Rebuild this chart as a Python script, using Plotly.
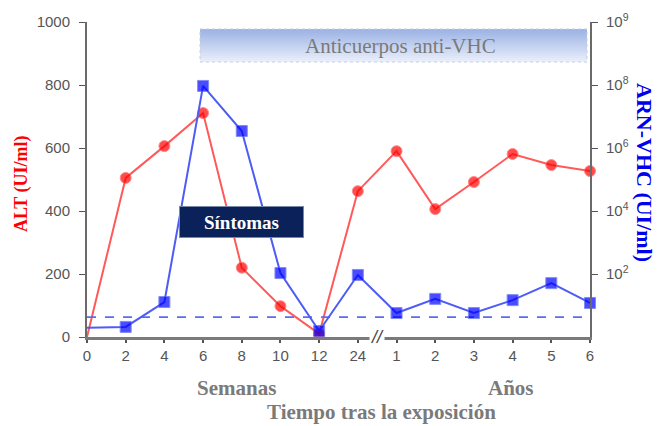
import plotly.graph_objects as go

# ---- data ----
x_labels = ["0", "2", "4", "6", "8", "10", "12", "24", "1", "2", "3", "4", "5", "6"]
x_pos = list(range(len(x_labels)))
alt_values = [0, 505, 606, 711, 220, 98, 10, 463, 590, 406, 492, 581, 546, 527]
# RNA-HCV plotted on the (schematic) right axis scale
rna_values = [29, 32, 111, 797, 654, 203, 19, 197, 76, 121, 76, 117, 171, 108]
detection_limit = 63
right_tickvals = [200, 400, 600, 800, 1000]
right_ticktext = ["10<sup>2</sup>", "10<sup>4</sup>", "10<sup>6</sup>", "10<sup>8</sup>", "10<sup>9</sup>"]
left_tickvals = [0, 200, 400, 600, 800, 1000]

marker_sizes = [0] + [11] * (len(x_pos) - 1)

fig = go.Figure()

fig.add_trace(go.Scatter(
    x=x_pos, y=[detection_limit] * len(x_pos), mode="lines",
    line=dict(color="#5a6cf0", width=1.6, dash="dash"), yaxis="y2",
    hoverinfo="skip", showlegend=False))

fig.add_trace(go.Scatter(
    x=x_pos, y=alt_values, mode="lines+markers",
    line=dict(color="#ff5a5a", width=2),
    marker=dict(symbol="circle", size=marker_sizes, color="#ff0000"),
    cliponaxis=False, showlegend=False))

fig.add_trace(go.Scatter(
    x=x_pos, y=rna_values, mode="lines+markers", yaxis="y2",
    line=dict(color="#4d5cf5", width=2),
    marker=dict(symbol="square", size=marker_sizes, color="#0000ff"),
    cliponaxis=False, showlegend=False))

tick_font = dict(family="Liberation Sans", size=15, color="#555555")
serif = "Liberation Serif"

fig.update_layout(
    width=663, height=426,
    margin=dict(l=87, r=73, t=22, b=89),
    paper_bgcolor="white", plot_bgcolor="white",
    xaxis=dict(range=[0, 13], tickvals=x_pos, ticktext=x_labels,
               showgrid=False, zeroline=False, showline=True,
               linecolor="#7a7a7a", linewidth=2.5,
               ticks="outside", ticklen=3, tickcolor="#555555", tickwidth=2,
               tickfont=tick_font),
    yaxis=dict(range=[0, 1000], tickvals=left_tickvals,
               showgrid=False, zeroline=False, showline=True,
               linecolor="#6a6a6a", linewidth=2,
               ticks="outside", ticklen=6, tickcolor="#555555",
               ticklabelstandoff=6, tickfont=tick_font),
    yaxis2=dict(range=[0, 1000], overlaying="y", side="right",
                tickvals=right_tickvals, ticktext=right_ticktext,
                showgrid=False, zeroline=False, showline=True,
                linecolor="#6a6a6a", linewidth=2,
                ticks="outside", ticklen=6, tickcolor="#555555",
                ticklabelstandoff=5, tickfont=tick_font),
)


def px_x(px):
    return (px - 87) / 503


def px_y(py):
    return (337 - py) / 315


# gradient box "Anticuerpos anti-VHC"
x0, x1 = 200, 587
y0, y1 = 29, 62
n = 16
top_c = (158, 180, 228)
bot_c = (232, 238, 251)
for i in range(n):
    t = i / (n - 1)
    c = tuple(int(top_c[k] + (bot_c[k] - top_c[k]) * t) for k in range(3))
    ya = y0 + (y1 - y0) * i / n
    yb = min(y1, y0 + (y1 - y0) * (i + 1) / n + 1.0)
    fig.add_shape(type="rect", xref="paper", yref="paper",
                  x0=px_x(x0), x1=px_x(x1), y0=px_y(yb), y1=px_y(ya),
                  line=dict(width=0), fillcolor="rgb(%d,%d,%d)" % c, layer="below")
fig.add_shape(type="rect", xref="paper", yref="paper",
              x0=px_x(x0), x1=px_x(x1), y0=px_y(y1), y1=px_y(y0),
              line=dict(width=1, color="#c8d0dc", dash="dot"), fillcolor="rgba(0,0,0,0)")

def ann(x, y, text, font, **kw):
    fig.add_annotation(xref="paper", yref="paper", x=px_x(x), y=px_y(y), text=text,
                       showarrow=False, xanchor="center", yanchor="middle", font=font, **kw)


ann(400, 46, "Anticuerpos anti-VHC", dict(family=serif, size=21, color="#7a7a7a"))

# "Síntomas" box
ann(241, 222, "<b>Síntomas</b>", dict(family=serif, size=19, color="white"),
    bgcolor="#0b215a", bordercolor="#7a88a8", borderwidth=1, width=121, height=28)

# axis break
fig.add_annotation(x=7.5, y=0, yref="y", text="<i>//</i>", showarrow=False,
                   xanchor="center", yanchor="middle",
                   font=dict(family="Liberation Sans", size=18, color="#444444"),
                   bgcolor="white", borderpad=0)

# axis titles
ann(22, 184, "<b>ALT (UI/ml)</b>", dict(family=serif, size=18, color="#ff0000"), textangle=-90)
ann(645, 172, "<b>ARN-VHC (UI/ml)</b>", dict(family=serif, size=22, color="#0000ee"), textangle=90)

ann(236, 388, "<b>Semanas</b>", dict(family=serif, size=21, color="#7a7a7a"))
ann(511, 388, "<b>Años</b>", dict(family=serif, size=21, color="#7a7a7a"))
ann(381, 412, "<b>Tiempo tras la exposición</b>", dict(family=serif, size=21, color="#7a7a7a"))

fig.write_html("out.html")
